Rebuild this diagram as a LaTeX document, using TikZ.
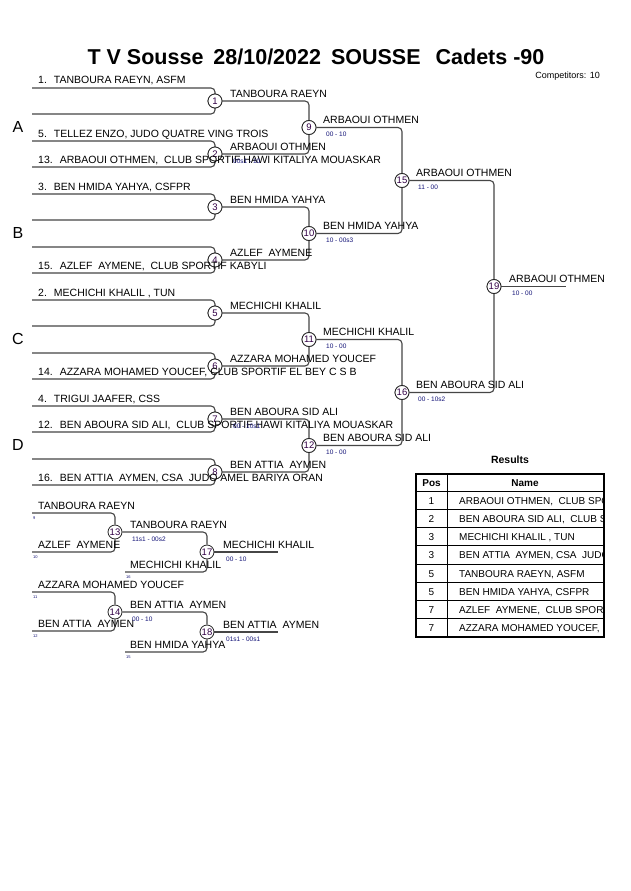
\documentclass[tikz,border=0pt]{standalone}
\usepackage{fontspec}
\setmainfont{Liberation Sans}
\definecolor{linec}{RGB}{70,70,70}
\definecolor{scorec}{RGB}{20,20,120}
\definecolor{numc}{RGB}{50,0,70}
\newcommand{\fs}[1]{\fontsize{#1}{#1}\selectfont}
\newcommand{\ent}[2]{#1.\hspace{7pt}#2}
\begin{document}
\begin{tikzpicture}[x=1pt,y=-1pt,
 ln/.style={draw=linec,line width=1.1pt,rounded corners=4pt},
 mc/.style={circle,draw=black!85,line width=0.8pt,fill=white,inner sep=0pt,minimum size=14pt,font=\fs{9.5},text=numc},
 nm/.style={anchor=base west,inner sep=0pt,font=\fs{10.5}},
 sc/.style={anchor=base west,inner sep=0pt,font=\fs{6.5},text=scorec},
 tn/.style={anchor=base west,inner sep=0pt,font=\fs{4},text=scorec},
 pl/.style={inner sep=0pt,font=\fs{16}},
 tb/.style={anchor=base west,inner sep=0pt,font=\fs{10}},
 tp/.style={anchor=base,inner sep=0pt,font=\fs{10}},
]
\useasboundingbox (0,0) rectangle (630,891);
\fill[white] (0,0) rectangle (630,891);

% title
\node[inner sep=0pt,font=\fs{21.5}\bfseries] (title) at (316,57) {T V Sousse\hspace{10pt}28/10/2022\hspace{10pt}SOUSSE\hspace{15pt}Cadets -90};
\node[anchor=base east,inner sep=0pt,font=\fs{9}] (comp) at (600,78) {Competitors: 10};

% pool letters
\node[pl] (pA) at (18,127) {A};
\node[pl] (pB) at (18,233) {B};
\node[pl] (pC) at (18,339) {C};
\node[pl] (pD) at (18,445) {D};

% first round
\foreach \i/\y in {1/101,2/154,3/207,4/260,5/313,6/366,7/419,8/472}{
  \coordinate (t\i) at (32,\y-13);
  \coordinate (u\i) at (32,\y+13);
  \draw[ln] (t\i) -| (215,\y);
  \draw[ln] (u\i) -| (215,\y);
  \node[mc] (m\i) at (215,\y) {\i};
}
% later rounds
\node[mc] (m9) at (309,127.5) {9};
\node[mc] (m10) at (309,233.5) {10};
\node[mc] (m11) at (309,339.5) {11};
\node[mc] (m12) at (309,445.5) {12};
\node[mc] (m15) at (402,180.5) {15};
\node[mc] (m16) at (402,392.5) {16};
\node[mc] (m19) at (494,286.5) {19};
\coordinate (f19) at (566,286.5);

\foreach \a/\b in {1/9,2/9,3/10,4/10,5/11,6/11,7/12,8/12,9/15,10/15,11/16,12/16,15/19,16/19}{
  \draw[ln] (m\a) -| (m\b);
}
\draw[ln] (m19) -- (f19);
% redraw circles on top
\foreach \i/\x/\y in {1/215/101,2/215/154,3/215/207,4/215/260,5/215/313,6/215/366,7/215/419,8/215/472,9/309/127.5,10/309/233.5,11/309/339.5,12/309/445.5,15/402/180.5,16/402/392.5,19/494/286.5}{
  \node[mc] at (\x,\y) {\i};
}

% entries
\node[nm] (e1) at (38,84) {\ent{1}{TANBOURA RAEYN, ASFM}};
\node[nm] (e5) at (38,137) {\ent{5}{TELLEZ ENZO, JUDO QUATRE VING TROIS}};
\node[nm] (e13) at (38,163) {\ent{13}{ARBAOUI OTHMEN,\ \ CLUB SPORTIF HAWI KITALIYA MOUASKAR}};
\node[nm] (e3) at (38,190) {\ent{3}{BEN HMIDA YAHYA, CSFPR}};
\node[nm] (e15) at (38,269) {\ent{15}{AZLEF\ \ AYMENE,\ \ CLUB SPORTIF KABYLI}};
\node[nm] (e2) at (38,296) {\ent{2}{MECHICHI KHALIL , TUN}};
\node[nm] (e14) at (38,375) {\ent{14}{AZZARA MOHAMED YOUCEF, CLUB SPORTIF EL BEY C S B}};
\node[nm] (e4) at (38,402) {\ent{4}{TRIGUI JAAFER, CSS}};
\node[nm] (e12) at (38,428) {\ent{12}{BEN ABOURA SID ALI,\ \ CLUB SPORTIF HAWI KITALIYA MOUASKAR}};
\node[nm] (e16) at (38,481) {\ent{16}{BEN ATTIA\ \ AYMEN, CSA\ \ JUDO AMEL BARIYA ORAN}};

% round 1 winners
\node[nm] (w1) at (230,97) {TANBOURA RAEYN};
\node[nm] (w2) at (230,150) {ARBAOUI OTHMEN};
\node[sc] (s2) at (233,163) {00s1 - 10};
\node[nm] (w3) at (230,203) {BEN HMIDA YAHYA};
\node[nm] (w4) at (230,256) {AZLEF\ \ AYMENE};
\node[nm] (w5) at (230,309) {MECHICHI KHALIL};
\node[nm] (w6) at (230,362) {AZZARA MOHAMED YOUCEF};
\node[nm] (w7) at (230,415) {BEN ABOURA SID ALI};
\node[sc] (s7) at (233,428) {00 - 10s1};
\node[nm] (w8) at (230,468) {BEN ATTIA\ \ AYMEN};

% round 2 winners
\node[nm] (w9) at (323,123.5) {ARBAOUI OTHMEN};
\node[sc] (s9) at (326,136.5) {00 - 10};
\node[nm] (w10) at (323,229.5) {BEN HMIDA YAHYA};
\node[sc] (s10) at (326,242.5) {10 - 00s3};
\node[nm] (w11) at (323,335.5) {MECHICHI KHALIL};
\node[sc] (s11) at (326,348.5) {10 - 00};
\node[nm] (w12) at (323,441.5) {BEN ABOURA SID ALI};
\node[sc] (s12) at (326,454.5) {10 - 00};
% round 3
\node[nm] (w15) at (416,176.5) {ARBAOUI OTHMEN};
\node[sc] (s15) at (418,189.5) {11 - 00};
\node[nm] (w16) at (416,388.5) {BEN ABOURA SID ALI};
\node[sc] (s16) at (418,401.5) {00 - 10s2};
% final
\node[nm] (w19) at (509,282.5) {ARBAOUI OTHMEN};
\node[sc] (s19) at (512,295.5) {10 - 00};

% repechage
\coordinate (r9) at (32,513);
\coordinate (r10) at (32,552);
\coordinate (r11) at (32,592);
\coordinate (r12) at (32,631);
\coordinate (r16) at (125,572);
\coordinate (r15) at (125,652);
\coordinate (e17) at (278,552);
\coordinate (e18) at (278,632);
\node[mc] (m13) at (115,532) {13};
\node[mc] (m14) at (115,612) {14};
\node[mc] (m17) at (207,552) {17};
\node[mc] (m18) at (207,632) {18};
\draw[ln] (r9) -| (m13);
\draw[ln] (r10) -| (m13);
\draw[ln] (m13) -| (m17);
\draw[ln] (r16) -| (m17);
\draw[ln] (m17) -- (e17);
\draw[ln] (r11) -| (m14);
\draw[ln] (r12) -| (m14);
\draw[ln] (m14) -| (m18);
\draw[ln] (r15) -| (m18);
\draw[ln] (m18) -- (e18);

\node[nm] (q9) at (38,509) {TANBOURA RAEYN};
\node[tn] (n9) at (33,519) {9};
\node[nm] (q10) at (38,548) {AZLEF\ \ AYMENE};
\node[tn] (n10) at (33,558) {10};
\node[nm] (q11) at (38,588) {AZZARA MOHAMED YOUCEF};
\node[tn] (n11) at (33,598) {11};
\node[nm] (q12) at (38,627) {BEN ATTIA\ \ AYMEN};
\node[tn] (n12) at (33,637) {12};
\node[nm] (q13) at (130,528) {TANBOURA RAEYN};
\node[sc] (t13) at (132,541) {11s1 - 00s2};
\node[nm] (q16) at (130,568) {MECHICHI KHALIL};
\node[tn] (n16) at (126,578) {16};
\node[nm] (q17) at (223,548) {MECHICHI KHALIL};
\node[sc] (t17) at (226,561) {00 - 10};
\node[nm] (q14) at (130,608) {BEN ATTIA\ \ AYMEN};
\node[sc] (t14) at (132,621) {00 - 10};
\node[nm] (q15) at (130,648) {BEN HMIDA YAHYA};
\node[tn] (n15) at (126,658) {15};
\node[nm] (q18) at (223,628) {BEN ATTIA\ \ AYMEN};
\node[sc] (t18) at (226,641) {01s1 - 00s1};

% results table
\node[inner sep=0pt,font=\fs{10.5}\bfseries] (res) at (510,460) {Results};
\def\tx{416}\def\tX{604}\def\ty{474}\def\hy{491}\def\rh{18.25}
\begin{scope}
\clip (\tx,\ty) rectangle (\tX,637);
\foreach \k/\p/\n in {0/1/{ARBAOUI OTHMEN,\ \ CLUB SPORTIF HAWI KITALIYA MOUASKAR},
  1/2/{BEN ABOURA SID ALI,\ \ CLUB SPORTIF HAWI KITALIYA MOUASKAR},
  2/3/{MECHICHI KHALIL , TUN},
  3/3/{BEN ATTIA\ \ AYMEN, CSA\ \ JUDO AMEL BARIYA ORAN},
  4/5/{TANBOURA RAEYN, ASFM},
  5/5/{BEN HMIDA YAHYA, CSFPR},
  6/7/{AZLEF\ \ AYMENE,\ \ CLUB SPORTIF KABYLI},
  7/7/{AZZARA MOHAMED YOUCEF, CLUB SPORTIF EL BEY C S B}}{
  \node[tp] at (431.5,\hy+\k*\rh+13) {\p};
  \node[tb] at (459,\hy+\k*\rh+13) {\n};
  \draw[line width=0.6pt] (\tx,\hy+\k*\rh) -- (\tX,\hy+\k*\rh);
}
\end{scope}
\node[tp,font=\fs{10}\bfseries] (hpos) at (431.5,486) {Pos};
\node[tp,font=\fs{10}\bfseries] (hname) at (525,486) {Name};
\draw[line width=0.6pt] (447,\ty) -- (447,637);
\draw[line width=1.5pt] (\tx,\ty) rectangle (\tX,637);
\end{tikzpicture}
\end{document}
